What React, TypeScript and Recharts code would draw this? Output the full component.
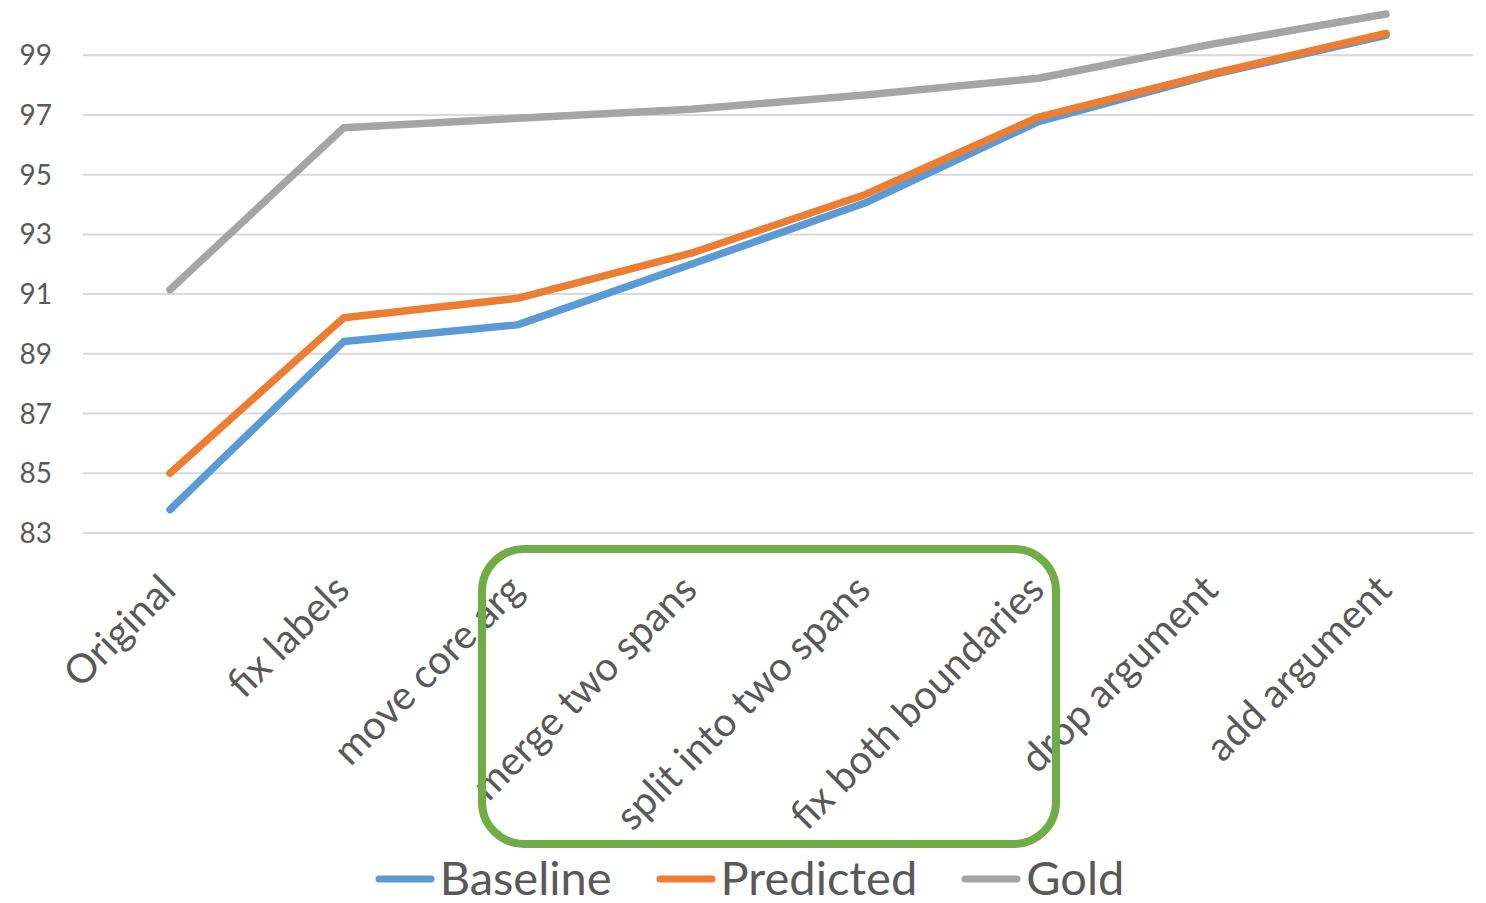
import React from 'react';
import { LineChart, Line, XAxis, YAxis, CartesianGrid, Legend } from 'recharts';

const categories = [
  'Original',
  'fix labels',
  'move core arg',
  'merge two spans',
  'split into two spans',
  'fix both boundaries',
  'drop argument',
  'add argument',
];
const baseline = [83.78, 89.41, 89.97, 92.0, 94.05, 96.78, 98.35, 99.67];
const predicted = [85.0, 90.21, 90.86, 92.37, 94.33, 96.93, 98.38, 99.73];
const gold = [91.15, 96.57, 96.89, 97.19, 97.67, 98.23, 99.37, 100.38];
const yTicks = [83, 85, 87, 89, 91, 93, 95, 97, 99];
const yDomain = [83, 100.85];

const series = [
  { key: 'baseline', name: 'Baseline', color: '#5B9BD5' },
  { key: 'predicted', name: 'Predicted', color: '#ED7D31' },
  { key: 'gold', name: 'Gold', color: '#A5A5A5' },
];

const data = categories.map((name, i) => ({
  name,
  baseline: baseline[i],
  predicted: predicted[i],
  gold: gold[i],
}));

const TEXT = '#595959';
const FONT = 'Lato, "Open Sans", sans-serif';

function XTick(props: any) {
  const { x, y, payload } = props;
  const ax = x + 8;
  const ay = y + 59;
  return (
    <text
      x={ax}
      y={ay}
      transform={`rotate(-45, ${ax}, ${ay})`}
      textAnchor="end"
      fill={TEXT}
      fontSize={40}
      fontFamily={FONT}
    >
      {payload.value}
    </text>
  );
}

function renderLegend() {
  return (
    <div
      style={{
        height: 60,
        boxSizing: 'border-box',
        paddingTop: 8,
        paddingLeft: 26,
        display: 'flex',
        alignItems: 'center',
        justifyContent: 'center',
        fontFamily: FONT,
        fontSize: 47,
        lineHeight: '46px',
        color: TEXT,
      }}
    >
      {series.map((s, i) => (
        <div key={s.key} style={{ display: 'flex', alignItems: 'center', marginLeft: i === 0 ? 0 : 44 }}>
          <svg width={60} height={10} style={{ marginRight: 5, marginTop: 4 }}>
            <line x1={4} y1={5} x2={56} y2={5} stroke={s.color} strokeWidth={7} strokeLinecap="round" />
          </svg>
          <span>{s.name}</span>
        </div>
      ))}
    </div>
  );
}

// grid lines only at the labelled ticks
const gridRows = ({ offset }: any) =>
  yTicks.map((t) => offset.top + ((yDomain[1] - t) / (yDomain[1] - yDomain[0])) * offset.height);

export default function App() {
  return (
    <div style={{ position: 'absolute', left: 0, top: 0, width: 1486, height: 903, background: '#fff' }}>
      <LineChart width={1486} height={903} data={data} margin={{ top: 0, right: 13, bottom: 0, left: 0 }}>
        <CartesianGrid
          vertical={false}
          stroke="#D9D9D9"
          strokeWidth={2}
          horizontalCoordinatesGenerator={gridRows}
        />
        <XAxis
          dataKey="name"
          interval={0}
          height={310}
          padding={{ left: 87, right: 87 }}
          tickLine={false}
          tickSize={0}
          tickMargin={0}
          axisLine={{ stroke: '#D9D9D9', strokeWidth: 2 }}
          tick={<XTick />}
        />
        <YAxis
          width={83}
          domain={yDomain}
          ticks={yTicks}
          axisLine={false}
          tickLine={false}
          tickSize={0}
          tickMargin={31}
          tick={{ fill: TEXT, fontSize: 28, fontFamily: FONT }}
        />
        <Legend verticalAlign="bottom" content={renderLegend} />
        {series.map((s) => (
          <Line
            key={s.key}
            type="linear"
            dataKey={s.key}
            name={s.name}
            stroke={s.color}
            strokeWidth={7.5}
            strokeLinecap="round"
            strokeLinejoin="round"
            dot={false}
            activeDot={false}
            isAnimationActive={false}
          />
        ))}
      </LineChart>
      {/* highlight box around the middle edit types */}
      <svg
        width={1486}
        height={903}
        style={{ position: 'absolute', left: 0, top: 0, pointerEvents: 'none' }}
      >
        <rect x={482} y={549} width={574} height={295} rx={42} ry={42} fill="none" stroke="#70AD47" strokeWidth={8} />
      </svg>
    </div>
  );
}
